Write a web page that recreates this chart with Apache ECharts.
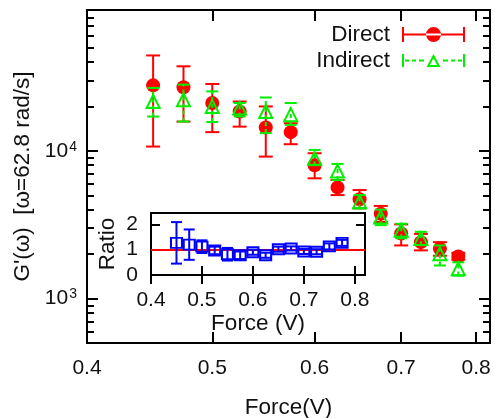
<!DOCTYPE html>
<html>
<head>
<meta charset="utf-8">
<script src="https://cdn.jsdelivr.net/npm/echarts@6/dist/echarts.min.js"></script>
<style>
html, body { margin: 0; padding: 0; background: #fff; }
#chart { width: 495px; height: 418px; }
</style>
</head>
<body>
<div id="chart"></div>
<script>
// values
var force = [0.45, 0.475, 0.5, 0.525, 0.55, 0.575, 0.6, 0.625, 0.65, 0.675, 0.7, 0.725, 0.75, 0.775];
var direct   = [27800, 27000, 21100, 18500, 14400, 13400, 8000, 5660, 4700, 3750, 2760, 2410, 2180, 1930];
var directLo = [10700, 15800, 13400, 14600, 9150, 11100, 6520, 5020, 4080, 3300, 2290, 2120, 1950, 1830];
var directHi = [44300, 37400, 28400, 21600, 20000, 15400, 9640, 6350, 5430, 4240, 3180, 2740, 2410, 2040];
var indirect   = [21600, 22200, 20000, 19500, 18500, 17600, 8900, 7300, 4520, 3570, 2900, 2550, 2010, 1590];
var indirectLo = [17100, 15800, 15700, 17100, 13200, 15000, 8000, 6340, 4080, 3140, 2560, 2300, 1675, 1430];
var indirectHi = [26700, 28100, 25300, 21100, 23000, 21100, 10150, 8160, 5020, 4000, 3210, 2830, 2290, 1760];
var ratio    = [1.27, 1.2, 1.12, 0.97, 0.82, 0.78, 0.9, 0.78, 1.02, 1.05, 0.93, 0.92, 1.13, 1.27];
var ratioErr = [0.82, 0.6, 0.25, 0.15, 0.25, 0.15, 0.1, 0.1, 0.1, 0.08, 0.1, 0.1, 0.12, 0.12];

var xTicks = [0.4, 0.5, 0.6, 0.7, 0.8];
var yMajor = [1000, 10000];
var yMinor = [600, 700, 800, 900, 2000, 3000, 4000, 5000, 6000, 7000, 8000, 9000,
              20000, 30000, 40000, 50000, 60000, 70000, 80000, 90000];
var ratioTicks = [0, 1, 2];

var lg = Math.log10;
var FONT = 'Liberation Sans, Arial, sans-serif';
var xMin = lg(0.4), xMax = lg(0.82);
var yMin = lg(500), yMax = lg(90000);

var chart = echarts.init(document.getElementById('chart'));

// 误差棒
function errBars(color, capW, dash) {
  return function (params, api) {
    var x = api.value(0);
    var lo = api.coord([x, api.value(1)]);
    var hi = api.coord([x, api.value(2)]);
    var cap = { stroke: color, lineWidth: 2 };
    return {
      type: 'group',
      children: [
        { type: 'line', shape: { x1: lo[0], y1: lo[1], x2: hi[0], y2: hi[1] },
          style: { stroke: color, lineWidth: 2, lineDash: dash } },
        { type: 'line', shape: { x1: lo[0] - capW / 2, y1: lo[1], x2: lo[0] + capW / 2, y2: lo[1] }, style: cap },
        { type: 'line', shape: { x1: hi[0] - capW / 2, y1: hi[1], x2: hi[0] + capW / 2, y2: hi[1] }, style: cap }
      ]
    };
  };
}

function tickAxis(extra) {
  var base = {
    type: 'value',
    axisLine: { show: false },
    splitLine: { show: false },
    axisLabel: { show: false },
    axisTick: { inside: true, length: 11, lineStyle: { color: '#000', width: 2 } }
  };
  return Object.assign(base, extra);
}

var labelStyle = { fontSize: 21, color: '#111', fontFamily: FONT };
var nameStyle = { fontSize: 22.5, color: '#111', fontFamily: FONT };

var xLog = xTicks.map(lg);
var yMajLog = yMajor.map(lg);
var yMinLog = yMinor.map(lg);

var redIcon = 'path://M0,6.5h63v2h-63z M0,0h2v15h-2z M61,0h2v15h-2z M24,7.5a7.5,7.5 0 1,0 15,0a7.5,7.5 0 1,0 -15,0z';
var greenIcon = 'path://M0,1h2v13h-2z M61,1h2v13h-2z M3,6.5h4v2h-4z M10,6.5h4v2h-4z M17,6.5h5v2h-5z ' +
  'M41,6.5h5v2h-5z M49,6.5h4v2h-4z M56,6.5h4v2h-4z ' +
  'M31.5,1L38.5,14L24.5,14z M31.5,5.3L27.9,12L35.1,12z';

var option = {
  animation: false,
  backgroundColor: '#fff',
  grid: [
    { left: 87, top: 10, right: 5, bottom: 75, show: true, borderColor: '#000', borderWidth: 2,
      containLabel: false, outerBoundsMode: 'none' },
    { left: 151, top: 213, width: 214, height: 62, show: true, backgroundColor: '#fff',
      borderColor: '#000', borderWidth: 2, containLabel: false, outerBoundsMode: 'none' }
  ],
  legend: {
    orient: 'vertical', right: 25, top: 18, itemGap: 3, align: 'right',
    itemWidth: 63, itemHeight: 15, selectedMode: false,
    textStyle: { fontSize: 22.5, color: '#111', fontFamily: FONT, padding: [0, 7, 0, 0] },
    data: [
      { name: 'Direct', icon: redIcon, itemStyle: { color: '#ff0000', borderWidth: 0 } },
      { name: 'Indirect', icon: greenIcon, itemStyle: { color: '#00ee00', borderWidth: 0 } }
    ]
  },
  xAxis: [
    tickAxis({ gridIndex: 0, position: 'bottom', min: xMin, max: xMax,
      axisTick: { inside: true, length: 11, customValues: xLog, lineStyle: { color: '#000', width: 2 } },
      axisLabel: Object.assign({ show: true, margin: 15, customValues: xLog,
        formatter: function (v) { return Math.pow(10, v).toFixed(1); } }, labelStyle),
      name: 'Force(V)', nameLocation: 'middle', nameGap: 53, nameTextStyle: nameStyle }),
    tickAxis({ gridIndex: 0, position: 'top', min: xMin, max: xMax,
      axisTick: { inside: true, length: 11, customValues: xLog, lineStyle: { color: '#000', width: 2 } } }),
    tickAxis({ gridIndex: 1, position: 'bottom', min: 0.4, max: 0.82,
      axisTick: { inside: true, length: 9, customValues: xTicks, lineStyle: { color: '#000', width: 2 } },
      axisLabel: Object.assign({ show: true, margin: 15, customValues: xTicks,
        formatter: function (v) { return v.toFixed(1); } }, labelStyle),
      name: 'Force (V)', nameLocation: 'middle', nameGap: 37, nameTextStyle: nameStyle }),
    tickAxis({ gridIndex: 1, position: 'top', min: 0.4, max: 0.82,
      axisTick: { inside: true, length: 9, customValues: xTicks, lineStyle: { color: '#000', width: 2 } } })
  ],
  yAxis: [
    tickAxis({ gridIndex: 0, position: 'left', min: yMin, max: yMax,
      axisTick: { inside: true, length: 11, customValues: yMajLog, lineStyle: { color: '#000', width: 2 } },
      axisLabel: Object.assign({ show: true, margin: 10, customValues: yMajLog,
        formatter: function (v) { return '10{sup|' + Math.round(v) + '}'; },
        rich: { sup: { fontSize: 14, color: '#111', fontFamily: FONT, verticalAlign: 'top', padding: [0, 0, 8, 1] } }
      }, labelStyle),
      name: "G'(ω)  [ω=62.8 rad/s]", nameLocation: 'middle', nameGap: 41, nameTextStyle: nameStyle }),
    tickAxis({ gridIndex: 0, position: 'left', min: yMin, max: yMax,
      axisTick: { inside: true, length: 7, customValues: yMinLog, lineStyle: { color: '#000', width: 2 } } }),
    tickAxis({ gridIndex: 0, position: 'right', min: yMin, max: yMax,
      axisTick: { inside: true, length: 11, customValues: yMajLog, lineStyle: { color: '#000', width: 2 } } }),
    tickAxis({ gridIndex: 0, position: 'right', min: yMin, max: yMax,
      axisTick: { inside: true, length: 7, customValues: yMinLog, lineStyle: { color: '#000', width: 2 } } }),
    tickAxis({ gridIndex: 1, position: 'left', min: 0, max: 2.45,
      axisTick: { inside: true, length: 9, customValues: ratioTicks, lineStyle: { color: '#000', width: 2 } },
      axisLabel: Object.assign({ show: true, margin: 13, customValues: ratioTicks }, labelStyle),
      name: 'Ratio', nameLocation: 'middle', nameGap: 32, nameTextStyle: nameStyle }),
    tickAxis({ gridIndex: 1, position: 'right', min: 0, max: 2.45,
      axisTick: { inside: true, length: 9, customValues: ratioTicks, lineStyle: { color: '#000', width: 2 } } })
  ],
  series: [
    {
      name: 'DirectErr', type: 'custom', xAxisIndex: 0, yAxisIndex: 0,
      renderItem: errBars('#ff0000', 14, null),
      data: force.map(function (f, i) { return [lg(f), lg(directLo[i]), lg(directHi[i])]; }),
      z: 2
    },
    {
      name: 'Direct', type: 'scatter', xAxisIndex: 0, yAxisIndex: 0,
      symbol: 'circle', symbolSize: 14,
      itemStyle: { color: '#ff0000', opacity: 1 },
      data: force.map(function (f, i) { return [lg(f), lg(direct[i])]; }),
      z: 3
    },
    {
      name: 'IndirectErr', type: 'custom', xAxisIndex: 0, yAxisIndex: 0,
      renderItem: errBars('#00ee00', 12, [4, 3]),
      data: force.map(function (f, i) { return [lg(f), lg(indirectLo[i]), lg(indirectHi[i])]; }),
      z: 4
    },
    {
      name: 'Indirect', type: 'scatter', xAxisIndex: 0, yAxisIndex: 0,
      symbol: 'triangle', symbolSize: 13,
      itemStyle: { color: 'rgba(0,0,0,0)', borderColor: '#00ee00', borderWidth: 2, opacity: 1 },
      data: force.map(function (f, i) { return [lg(f), lg(indirect[i])]; }),
      z: 5
    },
    {
      name: 'RatioErr', type: 'custom', xAxisIndex: 2, yAxisIndex: 4,
      renderItem: errBars('#0000ff', 11, null),
      data: force.map(function (f, i) { return [f, ratio[i] - ratioErr[i], ratio[i] + ratioErr[i]]; }),
      z: 6
    },
    {
      name: 'Ratio', type: 'scatter', xAxisIndex: 2, yAxisIndex: 4,
      symbol: 'rect', symbolSize: [11, 10],
      itemStyle: { color: 'rgba(0,0,0,0)', borderColor: '#0000ff', borderWidth: 2, opacity: 1 },
      data: force.map(function (f, i) { return [f, ratio[i]]; }),
      markLine: {
        silent: true, symbol: 'none', label: { show: false },
        lineStyle: { color: '#ff0000', width: 2, type: 'solid' },
        data: [{ yAxis: 1 }]
      },
      z: 7
    }
  ]
};
chart.setOption(option);
</script>
</body>
</html>
